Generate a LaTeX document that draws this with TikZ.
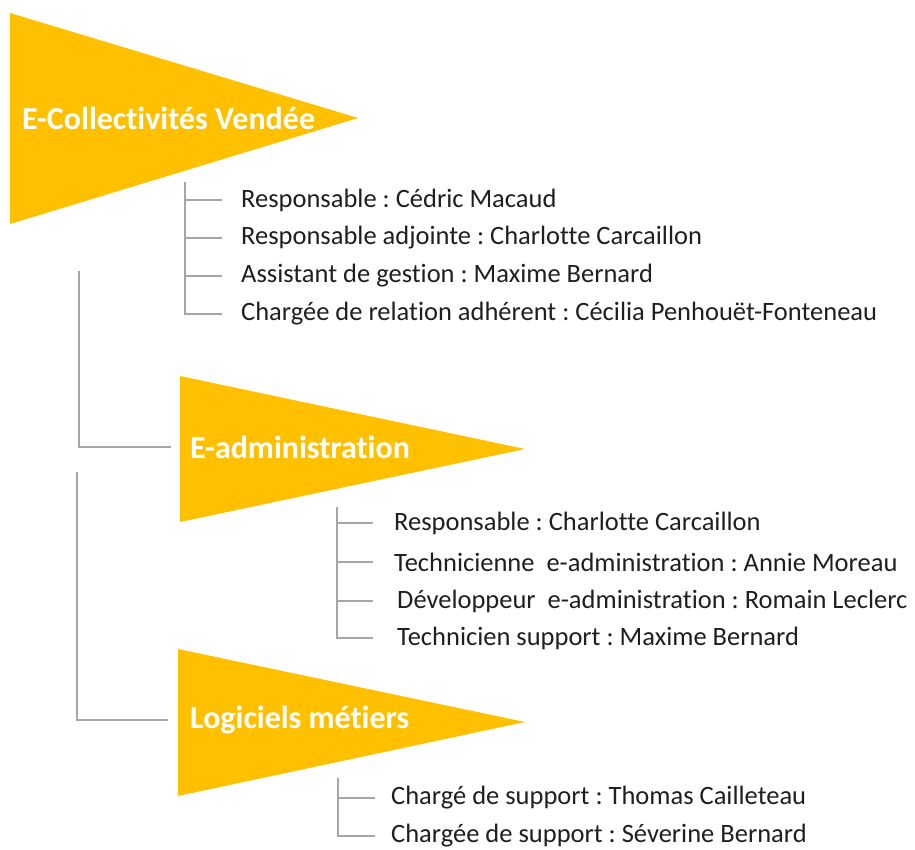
\documentclass[tikz,border=0pt]{standalone}
\usepackage{fontspec}
\setmainfont{Carlito}[Ligatures=NoCommon]
\usepackage{tikz}

\definecolor{gold}{HTML}{FFC000}
\definecolor{linegray}{HTML}{A6A6A6}

\begin{document}
\frenchspacing
\begin{tikzpicture}[x=1pt,y=-1pt,
    title/.style={anchor=west,inner sep=0pt,text=white,font=\fontsize{32}{38}\selectfont\bfseries},
    item/.style={anchor=west,inner sep=0pt,text=black!88,font=\fontsize{26.5}{31}\selectfont},
    link/.style={draw=linegray,line width=2pt}]

    \useasboundingbox (0,0) rectangle (915,850);

    % triangles
    \fill[gold] (10,13) -- (358,118) -- (10,224) -- cycle;
    \fill[gold] (180,376) -- (525,449) -- (180,522) -- cycle;
    \fill[gold] (178,649) -- (525,722) -- (178,796) -- cycle;

    \node[title] (vendee) at (22,118) {E-Collectivités Vendée};
    \node[title] (eadmin) at (190,447) {E-administration};
    \node[title] (metiers) at (190,720) {Logiciels métiers};

    % E-Collectivites Vendee
    \node[item] (va) at (241,200) {Responsable : Cédric Macaud};
    \node[item] (vb) at (241,238) {Responsable adjointe : Charlotte Carcaillon};
    \node[item] (vc) at (241,276) {Assistant de gestion : Maxime Bernard};
    \node[item] (vd) at (241,314) {Chargée de relation adhérent : Cécilia Penhouët-Fonteneau};

    \coordinate (vtop) at (185,182);
    \draw[link, shorten >=19pt] (vtop |- va.west) -- (va.west);
    \draw[link, shorten >=19pt] (vtop |- vb.west) -- (vb.west);
    \draw[link, shorten >=19pt] (vtop |- vc.west) -- (vc.west);
    \draw[link, shorten >=19pt] (vtop) |- (vd.west);

    % E-administration
    \node[item] (ea) at (394,523) {Responsable : Charlotte Carcaillon};
    \node[item] (eb) at (394,562) {Technicienne\ \ e-administration : Annie Moreau};
    \node[item] (ec) at (397,601) {Développeur\ \ e-administration : Romain Leclerc};
    \node[item] (ed) at (397,638) {Technicien support : Maxime Bernard};

    \coordinate (etop) at (337,507);
    \draw[link, shorten >=21pt] (etop |- ea.west) -- (ea.west);
    \draw[link, shorten >=21pt] (etop |- eb.west) -- (eb.west);
    \draw[link, shorten >=24pt] (etop |- ec.west) -- (ec.west);
    \draw[link, shorten >=24pt] (etop) |- (ed.west);

    % Logiciels metiers
    \node[item] (ma) at (391,798) {Chargé de support : Thomas Cailleteau};
    \node[item] (mb) at (391,836) {Chargée de support : Séverine Bernard};

    \coordinate (mtop) at (338,778);
    \draw[link, shorten >=16pt] (mtop |- ma.west) -- (ma.west);
    \draw[link, shorten >=16pt] (mtop) |- (mb.west);

    % links between levels
    \coordinate (ltop) at (79,271);
    \coordinate (lbot) at (77,472);
    \draw[link, shorten >=19pt] (ltop) |- (eadmin.west);
    \draw[link, shorten >=22pt] (lbot) |- (metiers.west);

\end{tikzpicture}
\end{document}
